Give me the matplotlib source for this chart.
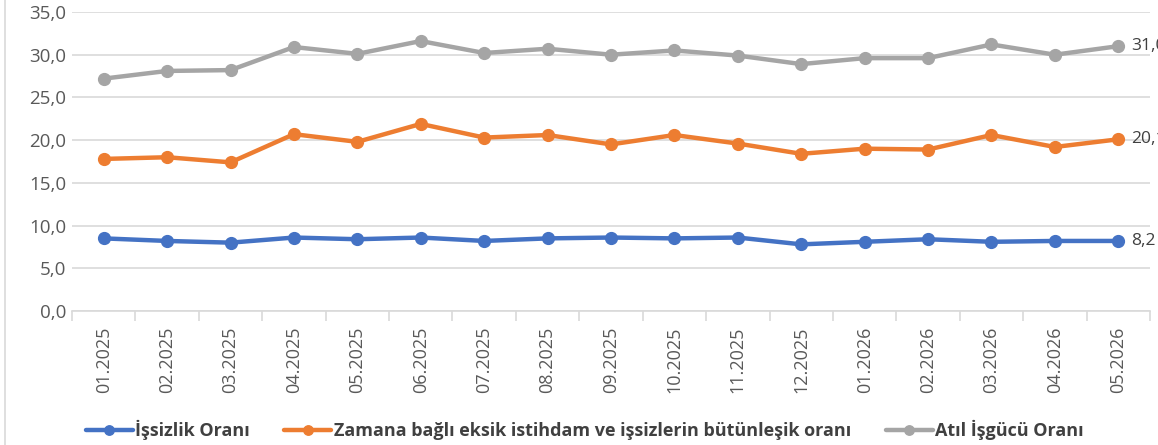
import matplotlib.pyplot as plt
from matplotlib.lines import Line2D
from matplotlib.ticker import FixedLocator, FuncFormatter

months = ["01.2025", "02.2025", "03.2025", "04.2025", "05.2025", "06.2025",
          "07.2025", "08.2025", "09.2025", "10.2025", "11.2025", "12.2025",
          "01.2026", "02.2026", "03.2026", "04.2026", "05.2026"]
isizlik = [8.5, 8.2, 8.0, 8.6, 8.4, 8.6, 8.2, 8.5, 8.6, 8.5, 8.6, 7.8,
           8.1, 8.4, 8.1, 8.2, 8.2]
zamana_bagli = [17.8, 18.0, 17.4, 20.7, 19.8, 21.9, 20.3, 20.6, 19.5, 20.6,
                19.6, 18.4, 19.0, 18.9, 20.6, 19.2, 20.1]
atil_isgucu = [27.2, 28.1, 28.2, 30.9, 30.1, 31.6, 30.2, 30.7, 30.0, 30.5,
               29.9, 28.9, 29.6, 29.6, 31.2, 30.0, 31.0]

series = [
    ("İşsizlik Oranı", isizlik, "#4472C4"),
    ("Zamana bağlı eksik istihdam ve işsizlerin bütünleşik oranı", zamana_bagli, "#ED7D31"),
    ("Atıl İşgücü Oranı", atil_isgucu, "#A5A5A5"),
]

plt.rcParams['font.family'] = ['Open Sans', 'DejaVu Sans']

fig = plt.figure(figsize=(11.58, 4.45), dpi=100)
ax = fig.add_axes([72 / 1158, 134 / 445, 1078 / 1158, 299 / 445])

x = list(range(len(months)))
for name, vals, color in series:
    ax.plot(x, vals, color=color, lw=3.2, marker='o', markersize=8.5,
            label=name, solid_capstyle='round')
    # end-of-line value labels (cut by the right edge, as in the original)
    ax.annotate(f"{vals[-1]:.1f}".replace('.', ','), (x[-1], vals[-1]),
                xytext=(9, 0), textcoords='offset points', va='center',
                ha='left', fontsize=12.5, color='#404040', annotation_clip=False)

ax.set_xlim(-0.5, len(months) - 0.5)
ax.set_ylim(0, 35)
ax.set_yticks([0, 5, 10, 15, 20, 25, 30, 35])
ax.yaxis.set_major_formatter(FuncFormatter(lambda v, p: f"{v:.1f}".replace('.', ',')))
ax.grid(axis='y', color='#D9D9D9', lw=1.2)
ax.set_axisbelow(True)

ax.set_xticks(x)
ax.set_xticklabels(months, rotation=90, fontsize=13, color='#595959')
ax.xaxis.set_minor_locator(FixedLocator([i - 0.5 for i in range(len(months) + 1)]))
ax.tick_params(axis='x', which='major', length=0, pad=11)
ax.tick_params(axis='x', which='minor', length=7, color='#D9D9D9', width=1.2)
ax.tick_params(axis='y', length=0, labelsize=13.5, labelcolor='#595959', pad=4)

for side in ['top', 'right', 'left']:
    ax.spines[side].set_visible(False)
ax.spines['bottom'].set_color('#D9D9D9')
ax.spines['bottom'].set_linewidth(1.2)

fig.add_artist(Line2D([5 / 1158, 5 / 1158], [0, 1], color='#D9D9D9', lw=1.2))

fig.legend(loc='lower center', bbox_to_anchor=(0.505, -0.025), ncol=3, frameon=False,
           prop={'weight': 'bold', 'size': 13}, labelcolor='#404040',
           handlelength=2.6, handletextpad=0.15, columnspacing=1.9,
           markerscale=0.8)

fig.savefig("out.png", dpi=100)
